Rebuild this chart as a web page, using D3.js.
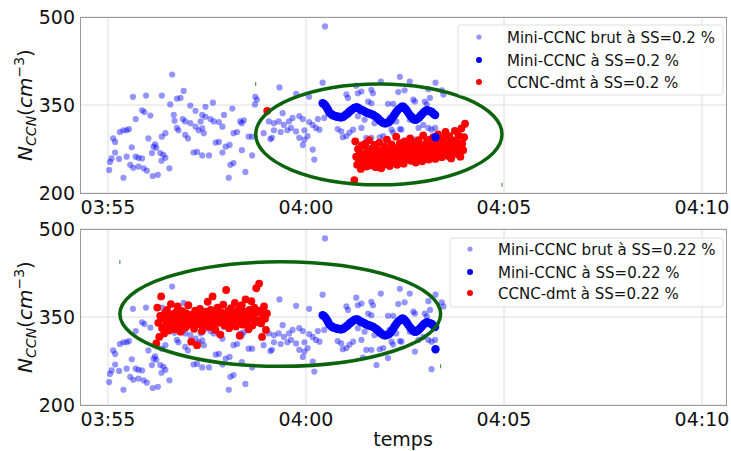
<!DOCTYPE html>
<html>
<head>
<meta charset="utf-8">
<script src="https://cdn.jsdelivr.net/npm/d3@7"></script>
<style>
  body { margin: 0; background: #fff; }
  text { font-family: "DejaVu Sans", sans-serif; fill: #111; }
</style>
</head>
<body>
<div id="chart"></div>
<script>
// time is kept in minutes after 03:55
const tickTimes = ['03:55', '04:00', '04:05', '04:10'];
const yTicks = [200, 350, 500];

// Mini-CCNC raw, same in both panels  [minutes, N]
const rawPoints = [
  [1.62,402],[1.91,374],[0.63,364],[0.96,366],[1.36,366],[1.74,361],[1.83,362],[1.57,351],[2.08,349],[2.21,340],
  [2.46,347],[2.65,354],[3.14,344],[0.86,341],[0.92,338],[1.07,332],[0.70,326],[1.66,333],[1.68,323],[1.89,326],
  [1.95,322],[2.08,319],[1.74,311],[1.78,307],[2.38,333],[2.46,330],[2.59,326],[2.67,322],[2.80,321],[2.93,333],
  [2.89,313],[2.34,322],[2.21,313],[2.29,307],[2.38,310],[2.42,302],[1.95,299],[2.02,293],[1.45,302],[1.36,296],
  [0.30,304],[0.39,307],[0.47,307],[0.53,309],[0.13,293],[0.18,287],[1.02,293],[1.19,283],[1.15,279],[1.22,277],
  [0.60,278],[2.72,286],[2.80,287],[2.97,279],[3.07,282],[0.18,269],[0.09,259],[0.05,253],[0.28,258],[0.47,262],
  [0.70,262],[0.77,260],[0.86,259],[1.32,268],[1.40,265],[1.45,260],[1.35,255],[1.11,268],[2.16,269],[2.25,270],
  [2.38,264],[2.55,264],[2.89,269],[0.56,248],[0.64,243],[0.77,245],[0.90,242],[0.98,238],[0.03,239],[1.55,242],
  [0.39,226],[1.13,229],[1.26,231],[3.05,226],
  [4.33,380],[3.72,364],[3.76,359],[3.71,351],[3.34,322],[3.43,324],[3.38,319],[3.26,304],[3.17,302],[3.55,296],
  [3.64,296],[3.93,302],[4.06,322],[4.19,319],[4.31,322],[4.44,316],[4.57,322],[4.19,307],[4.36,304],[4.53,307],
  [4.10,292],[4.14,294],[3.38,273],[3.64,264],[3.09,248],[3.17,251],[3.47,236],[4.41,336],
  [5.48,484],[4.75,369],[5.08,364],[5.42,388],[6.02,368],[6.06,362],[6.27,383],[6.31,370],[6.40,373],[6.65,376],
  [6.69,370],[6.89,390],[6.57,356],[6.65,353],[7.37,398],[7.62,390],[7.33,372],[7.49,375],[7.07,352],[7.20,352],
  [7.71,359],[7.75,356],[8.09,377],[8.27,388],[8.43,375],[8.47,368],[8.00,356],[8.13,362],[8.05,351],[4.66,328],
  [4.83,331],[4.92,326],[5.08,321],[5.17,316],[5.30,326],[5.46,328],[5.80,309],[5.89,305],[6.10,303],[6.19,308],
  [6.40,311],[6.31,331],[6.48,325],[6.73,319],[7.11,328],[7.20,331],[7.28,322],[7.41,308],[7.62,325],[7.84,311],
  [7.96,316],[8.26,311],[4.62,311],[4.75,305],[4.96,307],[4.83,294],[4.96,291],[5.04,297],[5.25,311],[5.34,308],
  [5.93,295],[6.02,297],[6.44,281],[6.52,294],[6.65,294],[6.86,295],[6.95,297],[7.16,308],[7.20,303],[7.37,309],
  [7.75,291],[8.09,311],[8.17,308],[4.92,282],[5.17,274],[5.21,257],[6.78,268],[7.07,280],[8.17,261]
];

// Mini-CCNC (smoothed), same in both panels
const miniMin = [5.42,5.45,5.49,5.53,5.56,5.59,5.63,5.66,5.70,5.74,5.78,5.82,5.86,5.90,5.94,5.98,6.02,6.06,6.10,6.14,
  6.18,6.22,6.26,6.30,6.34,6.38,6.42,6.46,6.50,6.54,6.58,6.62,6.66,6.70,6.74,6.78,6.82,6.86,6.90,6.94,
  6.98,7.02,7.06,7.10,7.14,7.18,7.22,7.26,7.30,7.34,7.38,7.42,7.46,7.50,7.54,7.58,7.62,7.66,7.70,7.74,
  7.78,7.82,7.86,7.90,7.94,7.98,8.02,8.06,8.10,8.14,8.18,8.22,8.26,8.27];
const miniN = [353,352,349,345,341,337,335,333,332,331,330,330,329,329,330,332,334,336,339,341,
  343,345,346,346,344,342,341,340,338,337,336,335,334,333,331,329,327,324,322,320,
  319,319,320,321,324,328,332,336,340,343,345,347,347,344,341,337,333,330,327,325,
  325,327,329,332,335,338,340,341,340,339,338,335,333,295];

// CCNC-dmt, SS=0.2 % (top) : regular readings from about 04:01:13
const dmt02Start = 6.22, dmt02Step = 0.0235;
const dmt02N = [
  222,288,262,248,275,255,270,241,281,259, 266,250,284,245,272,258,290,263,247,276,
  254,268,282,244,261,273,251,286,265,242, 270,257,279,249,263,291,256,274,246,268,
  283,259,252,277,265,296,248,271,260,285, 254,276,266,250,288,262,273,257,281,267,
  293,255,270,279,261,286,252,275,268,290, 259,282,271,254,298,266,278,262,287,273,
  257,291,269,280,263,295,274,258,284,270, 300,265,288,276,261,293,279,268,304,272,
  285,263,297,277,259,290,282,270,306,275, 288,266,298,280,262,310,284,273,295,318
];
const dmt02Extra = [[4.02, 340]];

// CCNC-dmt, SS=0.22 % (bottom) : from about 03:56:13
const dmt022Start = 1.22, dmt022Step = 0.0245;
const dmt022N = [
  305,366,340,316,352,385,331,348,322,357, 338,362,345,327,350,372,334,355,341,329,
  358,344,368,336,351,325,346,360,339,353, 332,356,343,370,337,349,308,354,342,330,
  361,347,302,352,338,364,344,326,357,348, 335,359,341,376,350,333,362,345,385,339,
  355,328,347,366,340,353,320,358,344,371, 336,351,396,343,360,331,349,365,338,354,
  346,374,334,357,342,363,318,350,370,337, 359,345,380,340,356,329,362,348,377,335,
  353,366,341,399,358,344,407,361,339,316, 352,368,347,328,356
];

// highlighted zones: centre minutes, centre N, half width (min), half height (N)
const zone02 = [6.84, 300, 3.11, 86];
const zone022 = [4.35, 355, 4.05, 89];

const W = 731, H = 451;
const base = new Date(2020, 0, 1, 3, 55, 0);
const t = m => new Date(+base + m * 60000);
const parseHM = s => { const [h, m] = s.split(':').map(Number); return new Date(2020, 0, 1, h, m, 0); };

const svg = d3.select('#chart').append('svg').attr('width', W).attr('height', H);

const x = d3.scaleTime().domain([t(-0.707), t(15.606)]).range([80, 726]);

const panels = [
  { top: 17, bottom: 193, ss: '0.2',
    red: dmt02N.map((v, i) => [dmt02Start + i * dmt02Step, v]).concat(dmt02Extra),
    zone: zone02, leg: { x: 458, y: 25, w: 265, h: 70, mx: 479, tx: 507, rows: [37, 60, 82] } },
  { top: 229, bottom: 405, ss: '0.22',
    red: dmt022N.map((v, i) => [dmt022Start + i * dmt022Step, v]),
    zone: zone022, leg: { x: 450, y: 238, w: 273, h: 69, mx: 470, tx: 498, rows: [249, 272, 293] } }
];

const mini = miniMin.map((m, i) => [m, miniN[i]]);

panels.forEach(p => {
  const y = d3.scaleLinear().domain([200, 500]).range([p.bottom, p.top]);
  const g = svg.append('g');
  const clipId = 'clip' + p.top;
  svg.append('clipPath').attr('id', clipId).append('rect')
    .attr('x', 80).attr('y', p.top).attr('width', 646).attr('height', p.bottom - p.top);

  // grid
  g.selectAll('.vg').data(tickTimes).join('line')
    .attr('x1', d => x(parseHM(d))).attr('x2', d => x(parseHM(d)))
    .attr('y1', p.top).attr('y2', p.bottom).attr('stroke', '#dcdcdc').attr('stroke-width', 1);
  g.selectAll('.hg').data(yTicks).join('line')
    .attr('x1', 80).attr('x2', 726).attr('y1', d => y(d)).attr('y2', d => y(d))
    .attr('stroke', '#dcdcdc').attr('stroke-width', 1);

  const marks = g.append('g').attr('clip-path', `url(#${clipId})`);
  marks.selectAll('.raw').data(rawPoints).join('circle')
    .attr('cx', d => x(t(d[0]))).attr('cy', d => y(d[1])).attr('r', 3.1)
    .attr('fill', '#0000ff').attr('fill-opacity', 0.42);
  marks.selectAll('.red').data(p.red).join('circle')
    .attr('cx', d => x(t(d[0]))).attr('cy', d => y(d[1])).attr('r', 3.9)
    .attr('fill', '#ff0000');
  marks.selectAll('.mini').data(mini).join('circle')
    .attr('cx', d => x(t(d[0]))).attr('cy', d => y(d[1])).attr('r', 4.2)
    .attr('fill', '#0000ff');

  // frame
  g.append('rect').attr('x', 80.5).attr('y', p.top + 0.5).attr('width', 646).attr('height', p.bottom - p.top)
    .attr('fill', 'none').attr('stroke', '#9a9a9a').attr('stroke-width', 1);

  // tick labels
  g.selectAll('.yt').data(yTicks).join('text')
    .attr('x', 75).attr('y', d => y(d) + 7).attr('text-anchor', 'end')
    .attr('font-size', 19).text(d => d);
  g.selectAll('.xt').data(tickTimes).join('text')
    .attr('x', d => x(parseHM(d))).attr('y', p.bottom + 20.5).attr('text-anchor', 'middle')
    .attr('font-size', 19).text(d => d);

  // y label
  const yl = g.append('text').attr('transform', `translate(32,${(p.top + p.bottom) / 2}) rotate(-90)`)
    .attr('text-anchor', 'middle').attr('font-size', 20);
  yl.append('tspan').attr('font-style', 'italic').text('N');
  yl.append('tspan').attr('font-style', 'italic').attr('font-size', 14).attr('dy', 4).text('CCN');
  yl.append('tspan').attr('dy', -4).text('(');
  yl.append('tspan').attr('font-style', 'italic').text('cm');
  yl.append('tspan').attr('font-size', 14).attr('dy', -8).text('−3');
  yl.append('tspan').attr('dy', 8).text(')');

  // highlighted zone
  const [cm, cv, rm, rv] = p.zone;
  const cx = x(t(cm)), cy = y(cv);
  const rx = x(t(cm + rm)) - cx, ry = y(cv - rv) - cy;
  g.append('ellipse').attr('cx', cx).attr('cy', cy).attr('rx', rx).attr('ry', ry)
    .attr('fill', 'none').attr('stroke', '#0b640b').attr('stroke-width', 3.5);
  [[cx - rx, cy - ry], [cx + rx, cy + ry]].forEach(([a, b]) => {
    g.append('line').attr('x1', a).attr('x2', a).attr('y1', b - 2).attr('y2', b + 2)
      .attr('stroke', '#2a8a2a').attr('stroke-width', 1);
  });

  // legend
  const L = p.leg;
  const lg = g.append('g');
  lg.append('rect').attr('x', L.x).attr('y', L.y).attr('width', L.w).attr('height', L.h).attr('rx', 3)
    .attr('fill', '#fff').attr('fill-opacity', 0.8).attr('stroke', '#dddddd');
  const items = [
    { label: `Mini-CCNC brut à SS=${p.ss} %`, color: '#0000ff', op: 0.42, r: 2.6 },
    { label: `Mini-CCNC à SS=${p.ss} %`, color: '#0000ff', op: 1, r: 3 },
    { label: `CCNC-dmt à SS=${p.ss} %`, color: '#ff0000', op: 1, r: 3 }
  ];
  items.forEach((it, i) => {
    lg.append('circle').attr('cx', L.mx).attr('cy', L.rows[i]).attr('r', it.r)
      .attr('fill', it.color).attr('fill-opacity', it.op);
    lg.append('text').attr('x', L.tx).attr('y', L.rows[i] + 5.5).attr('font-size', 15).text(it.label);
  });
});

svg.append('text').attr('x', 403).attr('y', 446).attr('text-anchor', 'middle')
  .attr('font-size', 19).text('temps');
</script>
</body>
</html>
